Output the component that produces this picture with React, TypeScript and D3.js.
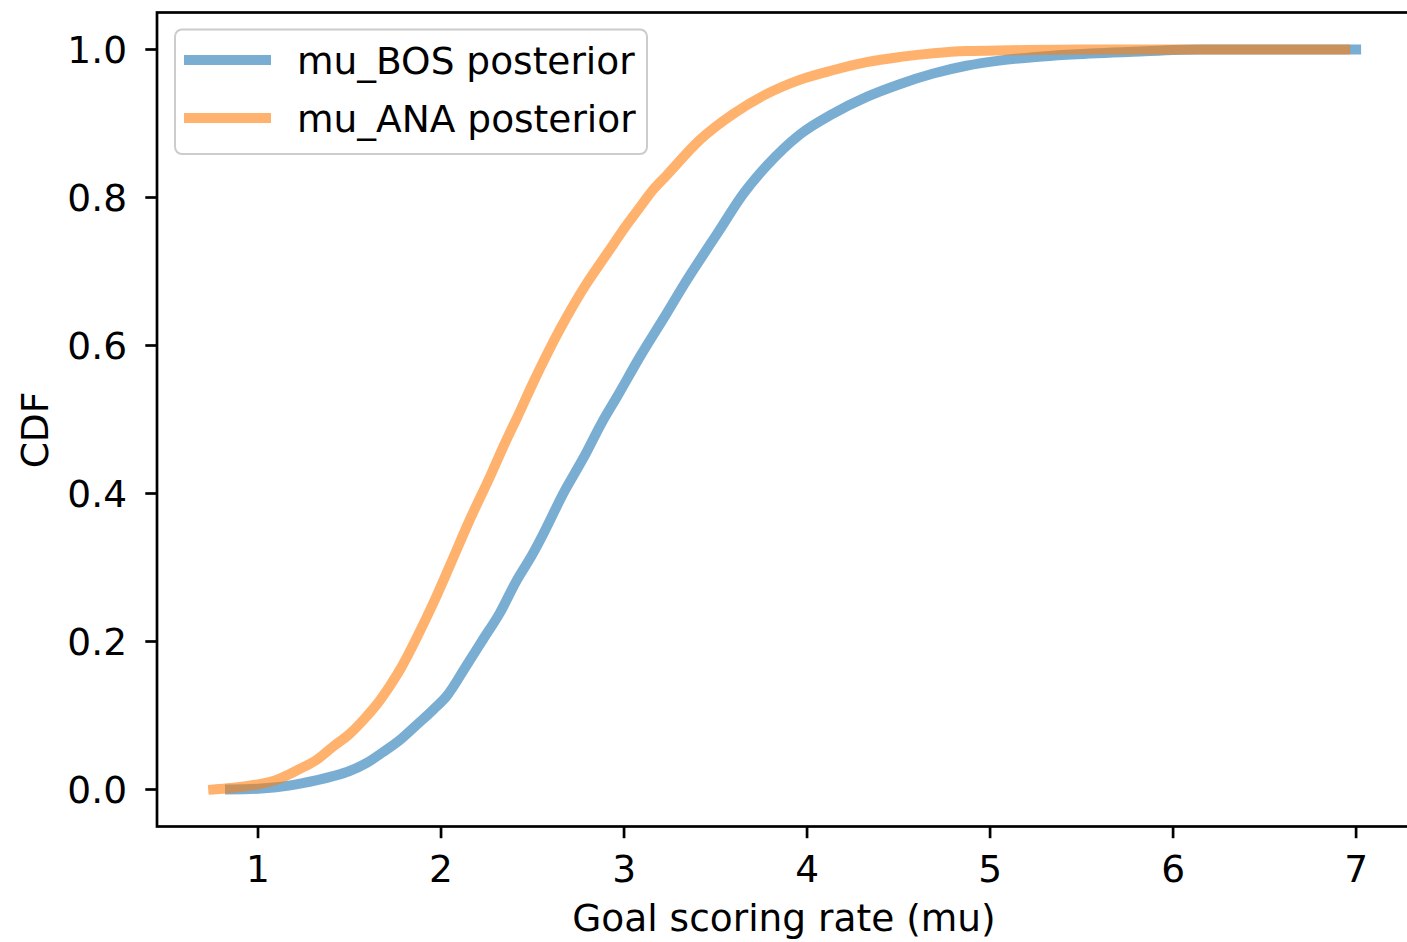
import React from "react";
import * as d3 from "d3";

// Posterior CDF of the goal scoring rate for each team
const bosX = [0.847, 1.0, 1.1, 1.23, 1.41, 1.5, 1.594, 1.68, 1.776, 1.87, 1.958, 2.03, 2.14, 2.23, 2.32, 2.41, 2.5, 2.56, 2.668, 2.778, 2.887, 2.96, 3.087, 3.233, 3.342, 3.415, 3.506, 3.652, 3.78, 3.96, 4.14, 4.326, 4.51, 4.69, 4.87, 5.05, 5.25, 5.42, 5.78, 6.15, 7.0];
const bosCdf = [0.0, 0.001, 0.003, 0.008, 0.018, 0.025, 0.036, 0.05, 0.067, 0.088, 0.108, 0.126, 0.168, 0.203, 0.238, 0.281, 0.318, 0.346, 0.4, 0.448, 0.4995, 0.53, 0.585, 0.6435, 0.688, 0.716, 0.75, 0.805, 0.843, 0.885, 0.913, 0.936, 0.9535, 0.9675, 0.978, 0.985, 0.99, 0.993, 0.997, 1.0, 1.0];

const anaX = [0.755, 0.85, 1.0, 1.1, 1.23, 1.32, 1.41, 1.5, 1.594, 1.649, 1.72, 1.776, 1.867, 1.958, 2.049, 2.158, 2.268, 2.34, 2.42, 2.504, 2.65, 2.796, 2.87, 2.94, 3.0, 3.087, 3.15, 3.233, 3.415, 3.597, 3.78, 3.96, 4.14, 4.326, 4.51, 4.69, 4.87, 5.1, 5.5, 6.94];
const anaCdf = [0.0, 0.002, 0.007, 0.013, 0.028, 0.04, 0.058, 0.075, 0.099, 0.115, 0.14, 0.162, 0.205, 0.252, 0.303, 0.365, 0.423, 0.463, 0.505, 0.55, 0.622, 0.684, 0.711, 0.736, 0.758, 0.787, 0.808, 0.83, 0.878, 0.913, 0.94, 0.959, 0.972, 0.983, 0.99, 0.995, 0.998, 0.999, 1.0, 1.0];

const xTicks = [1, 2, 3, 4, 5, 6, 7];
const yTicks = [0, 0.2, 0.4, 0.6, 0.8, 1.0];

const seriesNames = ["mu_BOS posterior", "mu_ANA posterior"];
const seriesColors = ["#1f77b4", "#ff7f0e"];

const W = 1407;
const H = 942;
const left = 157;
const right = 1411;
const top = 12.5;
const bottom = 826.5;

const FONT = "DejaVu Sans, sans-serif";
const FS = 37.5;

export default function App() {
  const x = d3.scaleLinear().domain([0.448, 7.3]).range([left, right]);
  const y = d3.scaleLinear().domain([-0.05, 1.05]).range([bottom, top]);

  const line = d3
    .line<[number, number]>()
    .x((d) => x(d[0]))
    .y((d) => y(d[1]))
    .curve(d3.curveMonotoneX);

  const series = [
    bosX.map((v, i) => [v, bosCdf[i]] as [number, number]),
    anaX.map((v, i) => [v, anaCdf[i]] as [number, number]),
  ];

  const tickLen = 11.7;
  const sw = 2.7;
  const dy = 13.7;

  return (
    <svg
      width={W}
      height={H}
      style={{ position: "absolute", left: 0, top: 0, background: "#fff" }}
      fontFamily={FONT}
    >
      <rect x={0} y={0} width={W} height={H} fill="#fff" />

      {series.map((pts, i) => (
        <path
          key={i}
          d={line(pts) || ""}
          fill="none"
          stroke={seriesColors[i]}
          strokeOpacity={0.6}
          strokeWidth={10}
          strokeLinecap="square"
          strokeLinejoin="round"
        />
      ))}

      {/* spines */}
      <rect
        x={left}
        y={top}
        width={right - left}
        height={bottom - top}
        fill="none"
        stroke="#000"
        strokeWidth={sw}
      />

      {/* x axis */}
      {xTicks.map((t) => (
        <g key={t} transform={`translate(${x(t)},0)`}>
          <line y1={bottom} y2={bottom + tickLen} stroke="#000" strokeWidth={sw} />
          <text y={882} textAnchor="middle" fontSize={FS} fill="#000">
            {t}
          </text>
        </g>
      ))}
      <text x={(left + right) / 2} y={931} textAnchor="middle" fontSize={FS} fill="#000">
        Goal scoring rate (mu)
      </text>

      {/* y axis */}
      {yTicks.map((t) => (
        <g key={t} transform={`translate(0,${y(t)})`}>
          <line x1={left} x2={left - tickLen} stroke="#000" strokeWidth={sw} />
          <text x={127} y={dy} textAnchor="end" fontSize={FS} fill="#000">
            {t.toFixed(1)}
          </text>
        </g>
      ))}
      <text
        transform={`translate(48,430) rotate(-90)`}
        textAnchor="middle"
        fontSize={FS}
        fill="#000"
      >
        CDF
      </text>

      {/* legend */}
      <g>
        <rect
          x={175}
          y={29.5}
          width={472}
          height={124.5}
          rx={7}
          fill="#fff"
          fillOpacity={0.8}
          stroke="#cccccc"
          strokeWidth={2}
        />
        {seriesNames.map((name, i) => (
          <g key={name} transform={`translate(0,${60 + i * 58})`}>
            <line
              x1={184}
              x2={271}
              stroke={seriesColors[i]}
              strokeOpacity={0.6}
              strokeWidth={10}
            />
            <text x={297} y={dy} fontSize={FS} fill="#000">
              {name}
            </text>
          </g>
        ))}
      </g>
    </svg>
  );
}
